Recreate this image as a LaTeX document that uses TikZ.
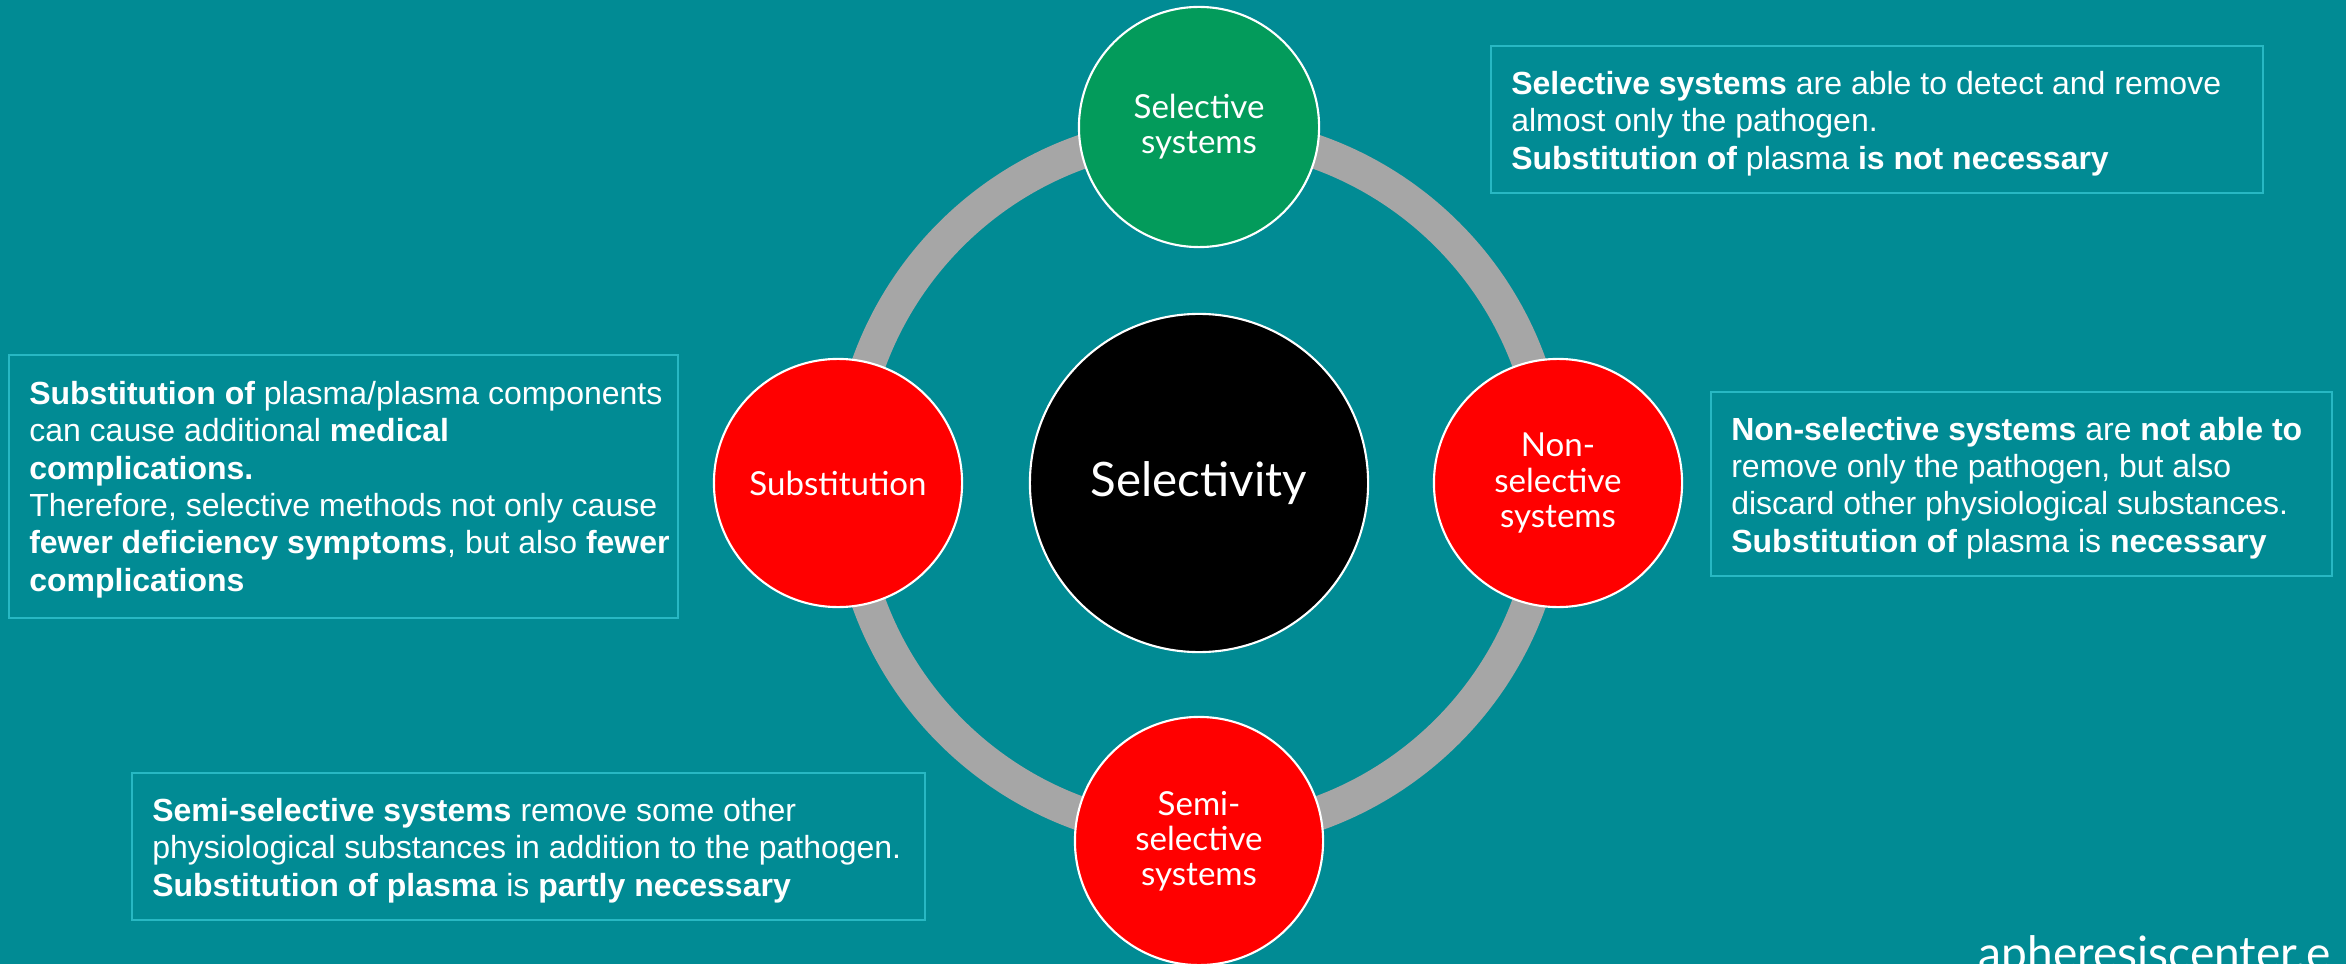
\documentclass[tikz,border=0pt]{standalone}
\usepackage{fontspec}
\setmainfont{Liberation Sans}
\newfontfamily\circfont{Lato}
\definecolor{bgteal}{RGB}{1,139,148}
\definecolor{boxline}{RGB}{40,184,195}
\definecolor{ringgray}{RGB}{166,166,166}
\definecolor{selgreen}{RGB}{3,155,91}
\definecolor{redc}{RGB}{255,0,0}
\newcommand{\boxfont}{\fontsize{9.1pt}{10.64pt}\selectfont}
\newcommand{\circtext}{\circfont\fontsize{9.4pt}{9.96pt}\selectfont}
\begin{document}
\begin{tikzpicture}[x=0.01cm,y=-0.01cm,
  ringstyle/.style={draw=ringgray,line width=0.34cm},
  satellite/.style={circle,draw=white,line width=0.6pt,minimum size=2.48cm,inner sep=0pt,text=white,font=\circtext,align=center},
  infobox/.style={draw=boxline,line width=0.7pt,inner sep=0pt},
  boxtxt/.style={text=white,font=\boxfont,align=left,inner sep=0pt,anchor=west}]
\useasboundingbox (0,0) rectangle (2346,964);
\fill[bgteal] (0,0) rectangle (2346,964);
% centre
\coordinate (mid) at (1199,483);
\draw[ringstyle] (mid) circle (3.51cm);
\node[circle,draw=white,line width=0.6pt,fill=black,minimum size=3.38cm,inner sep=0pt,text=white,font=\circfont\fontsize{13.5pt}{15pt}\selectfont] (center) at (mid) {Selectivity};
\node[satellite,fill=selgreen,minimum size=2.4cm] (sel) at (1199,127) {Selective\\systems};
\node[satellite,fill=redc] (nonsel) at (1558,483) {Non-\\selective\\systems};
\node[satellite,fill=redc] (semi) at (1199,841) {Semi-\\selective\\systems};
\node[satellite,fill=redc] (subst) at (838,483) {Substitution};
% boxes
\node[infobox,minimum width=7.72cm,minimum height=1.47cm] (bSel) at (1877,119.5) {};
\node[boxtxt] (tSel) at ([xshift=0.21cm,yshift=-0.04cm]bSel.west) {\textbf{Selective systems} are able to detect and remove\\almost only the pathogen.\\\textbf{Substitution of} plasma \textbf{is not necessary}};
\node[infobox,minimum width=6.69cm,minimum height=2.63cm] (bSub) at (343.5,486.5) {};
\node[boxtxt] (tSub) at ([xshift=0.21cm,yshift=-0.03cm]bSub.west) {\textbf{Substitution of} plasma/plasma components\\can cause additional \textbf{medical}\\\textbf{complications.}\\Therefore, selective methods not only cause\\\textbf{fewer deficiency symptoms}, but also \textbf{fewer}\\\textbf{complications}};
\node[infobox,minimum width=6.21cm,minimum height=1.84cm] (bNon) at (2021.5,484) {};
\node[boxtxt] (tNon) at ([xshift=0.21cm,yshift=-0.04cm]bNon.west) {\textbf{Non-selective systems} are \textbf{not able to}\\remove only the pathogen, but also\\discard other physiological substances.\\\textbf{Substitution of} plasma is \textbf{necessary}};
\node[infobox,minimum width=7.93cm,minimum height=1.47cm] (bSemi) at (528.5,846.5) {};
\node[boxtxt] (tSemi) at ([xshift=0.21cm,yshift=-0.04cm]bSemi.west) {\textbf{Semi-selective systems} remove some other\\physiological substances in addition to the pathogen.\\\textbf{Substitution of plasma} is \textbf{partly necessary}};
% footer
\node[anchor=base west,inner sep=0pt,text=white,font=\circfont\fontsize{13.1pt}{15pt}\selectfont] (site) at (1978,969) {apheresiscenter.e};
\end{tikzpicture}
\end{document}
